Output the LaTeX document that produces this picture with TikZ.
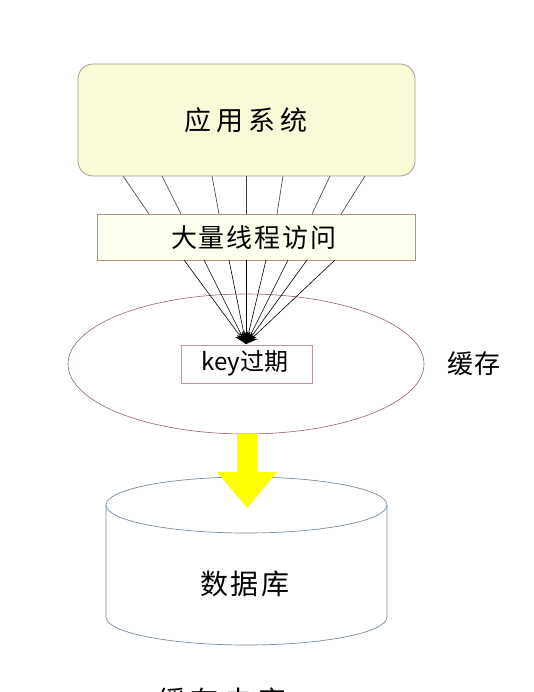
\documentclass[tikz,border=0pt]{standalone}
\usepackage{fontspec}
\newfontfamily\cjk{Noto Sans CJK SC}
\usetikzlibrary{shapes.geometric,arrows.meta}
\definecolor{appfill}{RGB}{250,250,214}
\definecolor{appline}{RGB}{160,160,150}
\definecolor{thrfill}{RGB}{255,255,238}
\definecolor{thrline}{RGB}{170,150,130}
\definecolor{cacheline}{RGB}{150,100,110}
\definecolor{keyline}{RGB}{190,150,155}
\definecolor{dbline}{RGB}{120,140,160}
\definecolor{arrowyellow}{RGB}{255,255,0}
\tikzset{
  appbox/.style={draw=appline, fill=appfill, rounded corners=15pt, line width=0.8pt,
    minimum width=337pt, minimum height=112pt, inner sep=0pt},
  thrbox/.style={draw=thrline, fill=thrfill, line width=0.8pt,
    minimum width=318pt, minimum height=46pt, inner sep=0pt},
  keybox/.style={draw=keyline, fill=white, line width=0.8pt,
    minimum width=131pt, minimum height=38pt, inner sep=0pt},
  cacheshape/.style={ellipse, draw=cacheline, line width=0.6pt,
    minimum width=356pt, minimum height=140pt, inner sep=0pt},
  thin link/.style={draw={rgb,255:red,60;green,60;blue,60}, line width=0.6pt},
  fan link/.style={draw=black, line width=0.6pt, -{Stealth[length=12pt,width=9pt]}},
  label/.style={font=\cjk, text=black, inner sep=0pt},
}
\begin{document}
\begin{tikzpicture}[x=1pt,y=-1pt]
\useasboundingbox (0,0) rectangle (534,692);
% application system
\node[appbox] (app) at (246.5,120) {};
\node[label, font=\cjk\fontsize{27}{27}\selectfont] (apptext) at (246,120) {应\hspace{5pt}用\hspace{5pt}系\hspace{5pt}统};
% thread box
\node[thrbox] (thr) at (256,237) {};
\node[label, font=\cjk\fontsize{26}{26}\selectfont] (thrtext) at (254,238) {大\hspace{2pt}量\hspace{2pt}线\hspace{2pt}程\hspace{2pt}访\hspace{2pt}问};
% lines app -> thread box
\foreach \i/\a/\b in {1/123/149, 2/162/181, 3/212/219, 4/246/246, 5/283/277, 6/330/312, 7/365/341}{
  \coordinate (ua\i) at (\a,176);
  \coordinate (ub\i) at (\b,214);
  \draw[thin link] (ua\i) -- (ub\i);
}
% cache ellipse
\node[cacheshape] (cache) at (246,364) {};
\node[label, font=\cjk\fontsize{26}{26}\selectfont] (cachetext) at (474,364) {缓\hspace{1pt}存};
% key box
\node[keybox] (key) at (246.5,364) {};
\node[label, font=\cjk\fontsize{24}{24}\selectfont] (keytext) at (245,363) {key过期};
% fan of arrows
\coordinate (tip) at (246,344);
\foreach \i/\a in {1/184, 2/204, 3/229, 4/246, 5/266, 6/288, 7/307, 8/335}{
  \coordinate (fa\i) at (\a,260);
  \draw[fan link] (fa\i) -- (tip);
}
% database cylinder
\coordinate (dbtl) at (106,505);
\coordinate (dbtr) at (387,505);
\coordinate (dbbl) at (106,617);
\coordinate (dbbr) at (387,617);
\draw[dbline, line width=0.7pt, fill=white] (dbtl) -- (dbbl) arc[start angle=180, end angle=0, x radius=140.5, y radius=28] -- (dbtr);
\draw[dbline, line width=0.7pt] (246.5,505) ellipse[x radius=140.5, y radius=28];
\node[label, font=\cjk\fontsize{28}{28}\selectfont] (dbtext) at (245,584) {数\hspace{3pt}据\hspace{3pt}库};
% yellow arrow
\coordinate (ys1) at (237,434);
\coordinate (ys2) at (257,434);
\fill[arrowyellow] (ys1) -- (237,472) -- (217,472) -- (247,508) -- (277,472) -- (257,472) -- (ys2) -- cycle;
% clipped caption at bottom
\begin{scope}
\clip (0,0) rectangle (534,692);
\node[label, font=\cjk\fontsize{28}{28}\selectfont, anchor=north] (caption) at (222,688) {缓\hspace{6pt}存\hspace{6pt}击\hspace{6pt}穿};
\end{scope}
\end{tikzpicture}
\end{document}
